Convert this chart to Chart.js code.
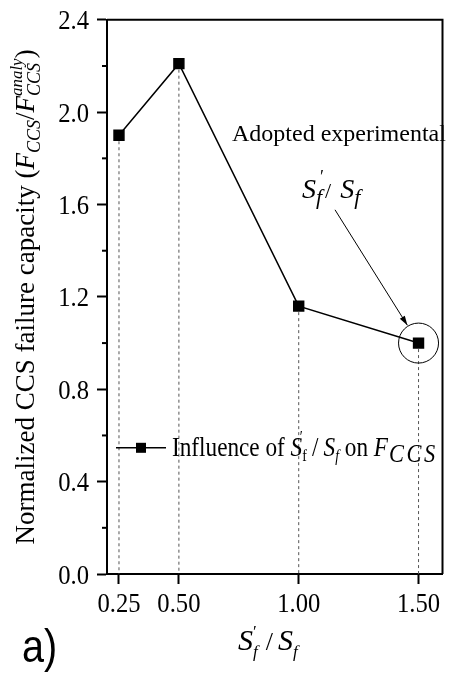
<!DOCTYPE html>
<html>
<head>
<meta charset="utf-8">
<script src="https://cdn.jsdelivr.net/npm/chart.js@4.4.1/dist/chart.umd.min.js"></script>
<style>
  html, body { margin: 0; padding: 0; background: #fff; }
  #wrap { width: 451px; height: 680px; }
</style>
</head>
<body>
<div id="wrap"><canvas id="ratioChart"></canvas></div>
<script>
// spacing ratio S'f/Sf against normalized CCS failure capacity
const ratios = [0.25, 0.5, 1.0, 1.5];
const capacity = [1.90, 2.21, 1.16, 1.00];
const xTicks = [0.25, 0.5, 1.0, 1.5];
const xTickLabels = ["0.25", "0.50", "1.00", "1.50"];
const yTickLabels = ["0.0", "0.4", "0.8", "1.2", "1.6", "2.0", "2.4"];
const adoptedIndex = 3; // experimental ratio that was adopted

const serif = '"Liberation Serif", "Times New Roman", serif';
const tickFont = 28;
const narrow = 0.88; // serif text is set a little condensed

function font(size, italic) {
  return (italic ? "italic " : "") + size + "px " + serif;
}

// rich text: list of {t, size, it, dy, dx, gap} or {stack: [...]} drawn left to right
function segWidth(ctx, s) {
  if (s.stack) return Math.max(...s.stack.map(p => segWidth(ctx, p))) + (s.gap || 0);
  ctx.font = font(s.size, s.it);
  return ctx.measureText(s.t).width + (s.gap || 0);
}
function richWidth(ctx, segs, sq) {
  return segs.reduce((w, s) => w + segWidth(ctx, s), 0) * (sq || 1);
}
function drawRich(ctx, segs, x, y, sq) {
  ctx.save();
  ctx.translate(x, y);
  ctx.scale(sq || 1, 1);
  let cx = 0;
  segs.forEach(s => {
    (s.stack || [s]).forEach(p => {
      ctx.font = font(p.size, p.it);
      ctx.fillText(p.t, cx + (p.dx || 0), p.dy || 0);
    });
    cx += segWidth(ctx, s);
  });
  ctx.restore();
}
function drawPlain(ctx, text, size, x, y, align, sq) {
  ctx.save();
  ctx.font = font(size, false);
  const w = ctx.measureText(text).width * sq;
  const x0 = align === "right" ? x - w : align === "center" ? x - w / 2 : x;
  ctx.translate(x0, y);
  ctx.scale(sq, 1);
  ctx.fillText(text, 0, 0);
  ctx.restore();
}

const yTitle = [
  { t: "Normalized CCS failure capacity (", size: 27 },
  { t: "F", size: 27, it: true },
  { t: "CCS", size: 18, it: true, dy: 6 },
  { t: "/", size: 27 },
  { t: "F", size: 27, it: true },
  { stack: [{ t: "analy", size: 17, it: true, dy: -12 }, { t: "CCS", size: 18, it: true, dy: 6 }] },
  { t: ")", size: 27 }
];

const legendText = [
  { t: "Influence of ", size: 27 },
  { t: "S", size: 27, it: true },
  { stack: [{ t: "\u2032", size: 16, dy: -14, dx: -3 }, { t: "f", size: 16, dy: 5 }] },
  { t: "/", size: 27, dx: 6, gap: 12 },
  { t: "S", size: 27, it: true },
  { t: "f", size: 16, it: true, dy: 5 },
  { t: " on ", size: 27 },
  { t: "F", size: 27, it: true, gap: 1 },
  { t: "C", size: 26, it: true, dy: 6, gap: 3 },
  { t: "C", size: 26, it: true, dy: 6, gap: 3 },
  { t: "S", size: 26, it: true, dy: 6 }
];

const ratioLabel = [
  { t: "S", size: 28, it: true },
  { stack: [{ t: "\u2032", size: 18, dy: -15, dx: 4 }, { t: "f", size: 22, it: true, dy: 6 }], gap: 3 },
  { t: "/", size: 22, gap: 9 },
  { t: "S", size: 28, it: true },
  { t: "f", size: 22, it: true, dy: 6 }
];

const xTitle = [
  { t: "S", size: 30, it: true },
  { stack: [{ t: "\u2032", size: 17, dy: -13, dx: 0 }, { t: "f", size: 17, it: true, dy: 7 }], gap: 8 },
  { t: "/", size: 26, gap: 5 },
  { t: "S", size: 30, it: true },
  { t: "f", size: 17, it: true, dy: 7 }
];

const overlay = {
  id: "overlay",
  beforeDatasetsDraw(chart) {
    // dashed drop lines from each point down to the x axis
    const { ctx, chartArea } = chart;
    ctx.save();
    ctx.strokeStyle = "#555";
    ctx.lineWidth = 1;
    ctx.setLineDash([3, 3]);
    chart.getDatasetMeta(0).data.forEach(pt => {
      ctx.beginPath();
      ctx.moveTo(pt.x, pt.y);
      ctx.lineTo(pt.x, chartArea.bottom);
      ctx.stroke();
    });
    ctx.restore();
  },
  afterDraw(chart) {
    const { ctx, chartArea: a, scales } = chart;
    ctx.save();
    ctx.fillStyle = "#000";
    ctx.strokeStyle = "#000";
    ctx.textBaseline = "alphabetic";

    // top and right frame
    ctx.lineWidth = 2;
    ctx.beginPath();
    ctx.moveTo(a.left, a.top);
    ctx.lineTo(a.right, a.top);
    ctx.lineTo(a.right, a.bottom);
    ctx.stroke();

    // minor y ticks
    for (let i = 1; i < 12; i += 2) {
      const y = scales.y.getPixelForValue(i * 0.2);
      ctx.beginPath();
      ctx.moveTo(a.left - 5, y);
      ctx.lineTo(a.left, y);
      ctx.stroke();
    }

    // tick labels, condensed serif
    yTickLabels.forEach((lab, i) => {
      const y = scales.y.getPixelForValue(i * 0.4);
      drawPlain(ctx, lab, tickFont, a.left - 18, y + 9.5, "right", narrow);
    });
    xTicks.forEach((v, i) => {
      const x = scales.x.getPixelForValue(v);
      drawPlain(ctx, xTickLabels[i], tickFont, x, a.bottom + 38, "center", narrow);
    });

    // y axis title, rotated
    ctx.save();
    ctx.translate(34, (a.top + a.bottom) / 2);
    ctx.rotate(-Math.PI / 2);
    drawRich(ctx, yTitle, -richWidth(ctx, yTitle) / 2, 0);
    ctx.restore();

    // x axis title
    drawRich(ctx, xTitle, 238, 650);

    // legend
    const ly = a.top + 428;
    ctx.lineWidth = 1.5;
    ctx.beginPath();
    ctx.moveTo(a.left + 9, ly);
    ctx.lineTo(a.left + 59, ly);
    ctx.stroke();
    ctx.fillRect(a.left + 29, ly - 5, 10, 10);
    drawRich(ctx, legendText, a.left + 65, ly + 8, 0.86);

    // adopted ratio callout
    drawPlain(ctx, "Adopted experimental", 24, a.left + 125, a.top + 121, "left", 1);
    drawRich(ctx, ratioLabel, a.left + 195, a.top + 178);

    const px = scales.x.getPixelForValue(ratios[adoptedIndex]);
    const py = scales.y.getPixelForValue(capacity[adoptedIndex]);
    const r = 20;
    ctx.lineWidth = 1;
    ctx.beginPath();
    ctx.arc(px, py, r, 0, Math.PI * 2);
    ctx.stroke();

    const sx = a.left + 228, sy = a.top + 190;
    const ang = Math.atan2(py - sy, px - sx);
    const ex = px - Math.cos(ang) * (r + 1), ey = py - Math.sin(ang) * (r + 1);
    ctx.beginPath();
    ctx.moveTo(sx, sy);
    ctx.lineTo(ex, ey);
    ctx.stroke();
    ctx.beginPath();
    ctx.moveTo(ex, ey);
    ctx.lineTo(ex - 10 * Math.cos(ang - 0.3), ey - 10 * Math.sin(ang - 0.3));
    ctx.lineTo(ex - 10 * Math.cos(ang + 0.3), ey - 10 * Math.sin(ang + 0.3));
    ctx.closePath();
    ctx.fill();

    // panel letter
    ctx.save();
    ctx.translate(22, 662);
    ctx.scale(0.86, 1);
    ctx.font = '46px "Liberation Sans", Arial, sans-serif';
    ctx.fillText("a)", 0, 0);
    ctx.restore();
    ctx.restore();
  }
};

const ctx = document.getElementById("ratioChart").getContext("2d");
const ratioChart = new Chart(ctx, {
  type: "line",
  data: {
    datasets: [
      {
        label: "Influence of S'f / Sf on FCCS",
        data: ratios.map((r, i) => ({ x: r, y: capacity[i] })),
        borderColor: "#000",
        backgroundColor: "#000",
        borderWidth: 1.5,
        pointStyle: "rect",
        pointRadius: 7,
        pointHoverRadius: 7,
        tension: 0,
      },
    ],
  },
  options: {
    responsive: true,
    maintainAspectRatio: false,
    animation: false,
    layout: { padding: { top: 17, right: 3, left: 0, bottom: 0 } },
    plugins: {
      legend: { display: false },
      tooltip: { enabled: false },
    },
    scales: {
      x: {
        type: "linear",
        min: 0.2,
        max: 1.6,
        afterBuildTicks: function (scale) {
          scale.ticks = xTicks.map(v => ({ value: v }));
        },
        afterFit: function (scale) {
          scale.height = 106;
        },
        ticks: {
          // labels are painted condensed by the overlay plugin
          callback: function (value, index) {
            return xTickLabels[index];
          },
          autoSkip: false,
          maxRotation: 0,
          color: "rgba(0,0,0,0)",
          font: { family: serif, size: tickFont },
        },
        grid: { drawOnChartArea: false, tickLength: 10, tickWidth: 2, tickColor: "#000" },
        border: { color: "#000", width: 2 },
      },
      y: {
        min: 0,
        max: 2.4,
        afterFit: function (scale) {
          scale.width = 107;
        },
        ticks: {
          stepSize: 0.2,
          callback: function (value) {
            const k = Math.round(value * 10);
            return k % 4 === 0 ? yTickLabels[k / 4] : "";
          },
          color: "rgba(0,0,0,0)",
          font: { family: serif, size: tickFont },
        },
        grid: {
          drawOnChartArea: false,
          tickLength: 10,
          tickWidth: 2,
          tickColor: function (c) {
            return Math.round(c.tick.value * 10) % 4 === 0 ? "#000" : "rgba(0,0,0,0)";
          },
        },
        border: { color: "#000", width: 2 },
      },
    },
  },
  plugins: [overlay],
});
</script>
</body>
</html>
